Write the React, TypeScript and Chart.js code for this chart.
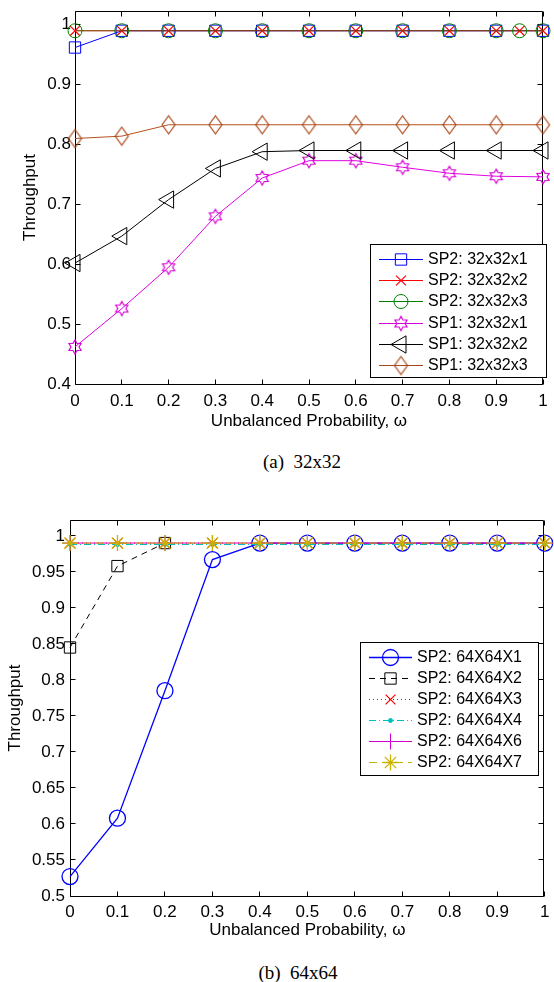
import React, { useEffect, useRef } from 'react';
import { Chart, registerables } from 'chart.js';
import { drawPoint } from 'chart.js/helpers';

Chart.register(...registerables);

// ---------- shared axes ----------
const X_TICKS = [0, 0.1, 0.2, 0.3, 0.4, 0.5, 0.6, 0.7, 0.8, 0.9, 1];
const OMEGA = [0, 0.1, 0.2, 0.3, 0.4, 0.5, 0.6, 0.7, 0.8, 0.9, 1];
const OMEGA_EXT = [0, 0.1, 0.2, 0.3, 0.4, 0.5, 0.6, 0.7, 0.8, 0.9, 0.95, 1];
const OMEGA_SHORT = [0, 0.1, 0.2];
const X_TITLE = 'Unbalanced Probability, \u03c9';
const Y_TITLE = 'Throughput';

// ---------- (a) 32x32 ----------
const Y_TICKS_A = [0.4, 0.5, 0.6, 0.7, 0.8, 0.9, 1];
const LABELS_A = ['SP2: 32x32x1', 'SP2: 32x32x2', 'SP2: 32x32x3', 'SP1: 32x32x1', 'SP1: 32x32x2', 'SP1: 32x32x3'];
const SP2_32X32X1 = [0.962, 0.99, 0.99, 0.99, 0.99, 0.99, 0.99, 0.99, 0.99, 0.99, 0.99];
const SP2_32X32X2 = [0.99, 0.99, 0.99, 0.99, 0.99, 0.99, 0.99, 0.99, 0.99, 0.99, 0.99, 0.99];
const SP2_32X32X3 = [0.99, 0.99, 0.99, 0.99, 0.99, 0.99, 0.99, 0.99, 0.99, 0.99, 0.99, 0.99];
const SP1_32X32X1 = [0.462, 0.526, 0.595, 0.68, 0.744, 0.773, 0.773, 0.762, 0.752, 0.747, 0.746];
const SP1_32X32X2 = [0.602, 0.647, 0.708, 0.76, 0.788, 0.79, 0.79, 0.79, 0.79, 0.79, 0.79];
const SP1_32X32X3 = [0.81, 0.814, 0.833, 0.833, 0.833, 0.833, 0.833, 0.833, 0.833, 0.833, 0.833];
const CAPTION_A = '(a)  32x32';

// ---------- (b) 64x64 ----------
const Y_TICKS_B = [0.5, 0.55, 0.6, 0.65, 0.7, 0.75, 0.8, 0.85, 0.9, 0.95, 1];
const LABELS_B = ['SP2: 64X64X1', 'SP2: 64X64X2', 'SP2: 64X64X3', 'SP2: 64X64X4', 'SP2: 64X64X6', 'SP2: 64X64X7'];
const SP2_64X64X1 = [0.527, 0.608, 0.785, 0.967, 0.99, 0.99, 0.99, 0.99, 0.99, 0.99, 0.99];
const SP2_64X64X2 = [0.845, 0.958, 0.99];
const SP2_64X64X3 = [0.99, 0.99, 0.99, 0.99, 0.99, 0.99, 0.99, 0.99, 0.99, 0.99, 0.99];
const SP2_64X64X4 = [0.988, 0.988, 0.988, 0.988, 0.988, 0.988, 0.988, 0.988, 0.988, 0.988, 0.988];
const SP2_64X64X6 = [0.99, 0.99, 0.99, 0.99, 0.99, 0.99, 0.99, 0.99, 0.99, 0.99, 0.99];
const SP2_64X64X7 = [0.99, 0.99, 0.99, 0.99, 0.99, 0.99, 0.99, 0.99, 0.99, 0.99, 0.99];
const CAPTION_B = '(b)  64x64';

const FONT = "'Liberation Sans', Arial, Helvetica, sans-serif";
const SERIF = "'Liberation Serif', 'Times New Roman', serif";

// ---------- marker canvases ----------
function makeHexagram(color: string, R: number) {
  const s = Math.ceil(2 * R + 4);
  const c = document.createElement('canvas');
  c.width = s; c.height = s;
  const g = c.getContext('2d')!;
  const cx = s / 2, cy = s / 2, r = R / Math.sqrt(3);
  g.beginPath();
  for (let k = 0; k < 12; k++) {
    const a = -Math.PI / 2 + (k * Math.PI) / 6;
    const rr = k % 2 === 0 ? R : r;
    const px = cx + rr * Math.cos(a), py = cy + rr * Math.sin(a);
    if (k === 0) g.moveTo(px, py); else g.lineTo(px, py);
  }
  g.closePath();
  g.strokeStyle = color; g.lineWidth = 1.2; g.stroke();
  return c;
}
function makeDiamond(color: string, w: number, h: number) {
  const c = document.createElement('canvas');
  c.width = w + 4; c.height = h + 4;
  const g = c.getContext('2d')!;
  const cx = c.width / 2, cy = c.height / 2;
  g.beginPath();
  g.moveTo(cx, cy - h / 2); g.lineTo(cx + w / 2, cy); g.lineTo(cx, cy + h / 2); g.lineTo(cx - w / 2, cy);
  g.closePath();
  g.strokeStyle = color; g.lineWidth = 1.2; g.stroke();
  return c;
}

function series(xs: number[], ys: number[], label: string, color: string, lineColor: string, marker: any, radius: number, i: number, extra: any = {}) {
  return {
    label,
    data: xs.map((x, k) => ({ x, y: ys[k] })),
    borderColor: lineColor,
    borderWidth: 1,
    pointStyle: marker,
    pointRadius: radius,
    pointBorderColor: color,
    pointBackgroundColor: 'rgba(0,0,0,0)',
    pointBorderWidth: 1,
    tension: 0,
    fill: false,
    clip: false,
    order: -i,
    ...extra,
  };
}

// ---------- plugin: MATLAB-like frame, inward ticks and legend ----------
const mlPlugin = {
  id: 'mlFrame',
  beforeDatasetsDraw(chart: any) {
    const { ctx, chartArea: a, scales } = chart;
    const L = Math.floor(a.left) + 0.5, R = Math.floor(a.right) - 0.5;
    const T = Math.floor(a.top) + 0.5, B = Math.floor(a.bottom) + 0.5;
    ctx.save();
    ctx.strokeStyle = '#000';
    ctx.lineWidth = 1;
    ctx.beginPath();
    ctx.rect(L, T, R - L, B - T);
    for (const t of scales.x.ticks) {
      const px = Math.floor(scales.x.getPixelForValue(t.value)) + 0.5;
      ctx.moveTo(px, B); ctx.lineTo(px, B - 5);
      ctx.moveTo(px, T); ctx.lineTo(px, T + 5);
    }
    for (const t of scales.y.ticks) {
      const py = Math.floor(scales.y.getPixelForValue(t.value)) + 0.5;
      ctx.moveTo(L, py); ctx.lineTo(L + 5, py);
      ctx.moveTo(R, py); ctx.lineTo(R - 5, py);
    }
    ctx.stroke();
    ctx.restore();
  },
  afterDatasetsDraw(chart: any) {
    const o = chart.options.plugins.mlFrame;
    if (!o) return;
    const { ctx } = chart;
    ctx.save();
    ctx.fillStyle = '#fff';
    ctx.fillRect(o.x, o.y, o.w, o.h);
    ctx.strokeStyle = '#000';
    ctx.lineWidth = 1;
    ctx.strokeRect(o.x + 0.5, o.y + 0.5, o.w, o.h);
    const mid = (o.lineX0 + o.lineX1) / 2;
    chart.data.datasets.forEach((ds: any, i: number) => {
      const cy = Math.round(o.y + o.first + i * o.rowH) + 0.5;
      ctx.save();
      ctx.strokeStyle = ds.pointBorderColor;
      ctx.lineWidth = ds.borderWidth;
      ctx.setLineDash(ds.borderDash || []);
      ctx.beginPath();
      ctx.moveTo(o.lineX0, cy); ctx.lineTo(o.lineX1, cy);
      ctx.stroke();
      ctx.setLineDash([]);
      ctx.strokeStyle = ds.pointBorderColor;
      ctx.fillStyle = ds.pointBackgroundColor;
      ctx.lineWidth = ds.pointBorderWidth;
      drawPoint(ctx, { pointStyle: ds.pointStyle, radius: ds.pointRadius, rotation: ds.pointRotation || 0, borderWidth: ds.pointBorderWidth } as any, mid, cy);
      ctx.restore();
      ctx.fillStyle = '#000';
      ctx.font = `${o.fontSize}px ${FONT}`;
      ctx.textBaseline = 'middle';
      ctx.textAlign = 'left';
      ctx.fillText(ds.label, o.textX, cy);
    });
    ctx.restore();
  },
};

type Area = { left: number; top: number; right: number; bottom: number };

function buildOptions(p: {
  W: number; H: number; area: Area; yMin: number; yMax: number; yTicks: number[];
  xTickPad: number; yTickPad: number; xTitlePad: number; yTitlePad: number; legend: any;
}) {
  const tickFont = { family: FONT, size: 17 };
  const titleFont = { family: FONT, size: 17 };
  return {
    responsive: false,
    animation: false as const,
    devicePixelRatio: 1,
    events: [],
    layout: { padding: { left: 0, top: p.area.top, right: p.W - p.area.right, bottom: 0 } },
    plugins: { legend: { display: false }, tooltip: { enabled: false }, mlFrame: p.legend },
    scales: {
      x: {
        type: 'linear' as const,
        min: 0,
        max: 1,
        afterBuildTicks: (s: any) => { s.ticks = X_TICKS.map((v) => ({ value: v })); },
        afterFit: (s: any) => { s.height = p.H - p.area.bottom; s.paddingLeft = 0; s.paddingRight = 0; },
        ticks: { callback: (v: any) => String(v), autoSkip: false, maxRotation: 0, minRotation: 0, font: tickFont, color: '#000', padding: p.xTickPad },
        grid: { display: false, drawTicks: false },
        border: { display: false },
        title: { display: true, text: X_TITLE, font: titleFont, color: '#000', padding: { top: 0, bottom: p.xTitlePad } },
      },
      y: {
        type: 'linear' as const,
        min: p.yMin,
        max: p.yMax,
        afterBuildTicks: (s: any) => { s.ticks = p.yTicks.map((v) => ({ value: v })); },
        afterFit: (s: any) => { s.width = p.area.left; s.paddingTop = 0; s.paddingBottom = 0; },
        ticks: { callback: (v: any) => String(v), autoSkip: false, font: tickFont, color: '#000', padding: p.yTickPad },
        grid: { display: false, drawTicks: false },
        border: { display: false },
        title: { display: true, text: Y_TITLE, font: titleFont, color: '#000', padding: { top: p.yTitlePad, bottom: 0 } },
      },
    },
  };
}

const AREA_A: Area = { left: 75, top: 8, right: 552, bottom: 384 };
const AREA_B: Area = { left: 70, top: 40, right: 548, bottom: 416 };

function configA() {
  const hex = makeHexagram('#d800d8', 7);
  const dia = makeDiamond('#a84818', 13, 18);
  const datasets = [
    series(OMEGA, SP2_32X32X1, LABELS_A[0], '#0000ff', '#0000ff', 'rect', 8, 0),
    series(OMEGA_EXT, SP2_32X32X2, LABELS_A[1], '#ff0000', '#ff0000', 'crossRot', 7, 1, { pointBorderWidth: 1.2 }),
    series(OMEGA_EXT, SP2_32X32X3, LABELS_A[2], '#008000', 'rgba(0,128,0,0.55)', 'circle', 7, 2),
    series(OMEGA, SP1_32X32X1, LABELS_A[3], '#d800d8', '#e000e0', hex, 7, 3),
    series(OMEGA, SP1_32X32X2, LABELS_A[4], '#000000', '#000000', 'triangle', 10, 4, { pointRotation: -90 }),
    series(OMEGA, SP1_32X32X3, LABELS_A[5], '#a84818', '#b4501e', dia, 8, 5),
  ];
  return {
    type: 'line' as const,
    data: { datasets },
    options: buildOptions({
      W: 554, H: 440, area: AREA_A,
      yMin: 0.4, yMax: 1.023, yTicks: Y_TICKS_A,
      xTickPad: 7, yTickPad: 4, xTitlePad: 8, yTitlePad: 20,
      legend: { x: 370, y: 244, w: 176, h: 133, first: 15, rowH: 21.2, lineX0: 379, lineX1: 423, textX: 428, fontSize: 16 },
    }),
    plugins: [mlPlugin],
  };
}

function configB() {
  const datasets = [
    series(OMEGA, SP2_64X64X1, LABELS_B[0], '#0000ff', '#0000ff', 'circle', 8, 0, { borderWidth: 1.3, pointBorderWidth: 1.3 }),
    series(OMEGA_SHORT, SP2_64X64X2, LABELS_B[1], '#000000', '#000000', 'rect', 8, 1, { borderDash: [6, 5] }),
    series(OMEGA, SP2_64X64X3, LABELS_B[2], '#ff0000', '#ff0000', 'crossRot', 7, 2, { borderDash: [1, 3], pointBorderWidth: 1.2 }),
    series(OMEGA, SP2_64X64X4, LABELS_B[3], '#00bfbf', '#00bfbf', 'circle', 2, 3, { borderDash: [7, 3, 1, 3], pointBackgroundColor: '#00bfbf' }),
    series(OMEGA, SP2_64X64X6, LABELS_B[4], '#d000d0', '#d000d0', 'cross', 8, 4),
    series(OMEGA, SP2_64X64X7, LABELS_B[5], '#c8b400', '#c8b400', 'star', 8, 5, { borderDash: [8, 5], pointBorderWidth: 1.3 }),
  ];
  return {
    type: 'line' as const,
    data: { datasets },
    options: buildOptions({
      W: 554, H: 462, area: AREA_B,
      yMin: 0.5, yMax: 1.022, yTicks: Y_TICKS_B,
      xTickPad: 6, yTickPad: 5, xTitlePad: 1, yTitlePad: 5,
      legend: { x: 360, y: 162, w: 178, h: 133, first: 14.7, rowH: 21, lineX0: 369, lineX1: 412, textX: 417, fontSize: 16 },
    }),
    plugins: [mlPlugin],
  };
}

// nudge layout padding until the plot area sits exactly where wanted
function fitArea(chart: any, want: Area) {
  for (let k = 0; k < 4; k++) {
    const a = chart.chartArea;
    const pad = chart.options.layout.padding;
    const dl = want.left - a.left, dr = a.right - want.right, dt = want.top - a.top, db = a.bottom - want.bottom;
    if (Math.max(Math.abs(dl), Math.abs(dr), Math.abs(dt), Math.abs(db)) < 0.25) break;
    chart.options.layout.padding = {
      left: (pad.left || 0) + dl,
      right: (pad.right || 0) + dr,
      top: (pad.top || 0) + dt,
      bottom: (pad.bottom || 0) + db,
    };
    chart.update();
  }
}

function ChartCanvas({ build, area, width, height, top }: { build: () => any; area: Area; width: number; height: number; top: number }) {
  const ref = useRef<HTMLCanvasElement>(null);
  useEffect(() => {
    const chart = new Chart(ref.current!, build());
    fitArea(chart, area);
    return () => chart.destroy();
  }, []);
  return <canvas ref={ref} width={width} height={height} style={{ position: 'absolute', left: 0, top, width, height }} />;
}

function Caption({ text, cx, cy }: { text: string; cx: number; cy: number }) {
  return (
    <div style={{ position: 'absolute', left: cx - 100, width: 200, top: cy - 12, height: 24, lineHeight: '24px', textAlign: 'center', fontFamily: SERIF, fontSize: 19, whiteSpace: 'pre', color: '#000' }}>
      {text}
    </div>
  );
}

export default function App() {
  return (
    <div style={{ position: 'absolute', left: 0, top: 0, width: 554, height: 982, overflow: 'hidden', background: '#fff' }}>
      <ChartCanvas build={configA} area={AREA_A} width={554} height={440} top={0} />
      <Caption text={CAPTION_A} cx={302} cy={462} />
      <ChartCanvas build={configB} area={AREA_B} width={554} height={462} top={480} />
      <Caption text={CAPTION_B} cx={298} cy={973} />
    </div>
  );
}
